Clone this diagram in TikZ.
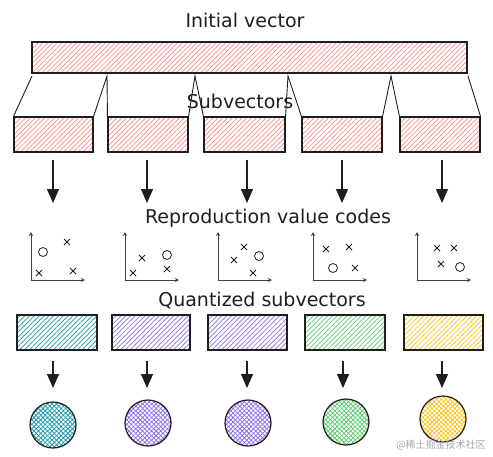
\documentclass[tikz,border=0pt]{standalone}
\usepackage{fontspec}
\setmainfont{DejaVu Sans}
\newfontfamily\cjkfont{Noto Sans CJK SC}
\usetikzlibrary{arrows.meta,patterns.meta,calc}
\definecolor{inkc}{HTML}{1E1E1E}
\definecolor{redh}{HTML}{FF8787}
\definecolor{tealh}{HTML}{1798A8}
\definecolor{purph}{HTML}{8C6CF0}
\definecolor{greenh}{HTML}{5CCB6E}
\definecolor{yellh}{HTML}{FCC419}
\tikzset{
  box/.style={draw=inkc, line width=1.1pt, rectangle, inner sep=0pt, minimum height=35pt},
  hatchfill/.style={pattern={Lines[angle=45,distance=3.4pt,line width=0.7pt]}, pattern color=#1},
  crossfill/.style={pattern={Hatch[angle=45,distance=3.2pt,line width=0.75pt]}, pattern color=#1},
  disc/.style={draw=inkc, line width=1.2pt, circle, minimum size=46pt, inner sep=0pt},
  funnel/.style={draw=inkc, line width=0.9pt},
  bigarrow/.style={draw=inkc, line width=1.3pt, -{Triangle[width=12pt,length=14pt]}},
  axis/.style={draw=inkc!85, line width=0.8pt, -{Stealth[length=4pt,width=4pt]}},
  title/.style={font=\fontsize{19}{21}\selectfont, text=inkc},
  xm/.style={draw=inkc, line width=0.8pt},
  om/.style={draw=inkc, line width=0.8pt, circle, minimum size=9pt, inner sep=0pt},
}
\newcommand{\xmark}[2]{\draw[xm] (#1-3,#2-3) -- (#1+3,#2+3) (#1-3,#2+3) -- (#1+3,#2-3);}
\newcommand{\plotaxes}[2]{%
  \coordinate (o#1) at (#2,280);
  \coordinate (t#1) at (#2,232);
  \coordinate (r#1) at (#2+54,280);
  \draw[axis] (o#1) -- (t#1);
  \draw[axis] (o#1) -- (r#1);}
\begin{document}
\begin{tikzpicture}[x=1pt,y=-1pt]
\useasboundingbox (0,0) rectangle (493,456);

% titles
\node[title] (t1) at (245,20) {Initial vector};
\node[title] (t2) at (240,101) {Subvectors};
\node[title] (t3) at (268,218) {Reproduction value codes};
\node[title] (t4) at (262,300) {Quantized subvectors};

% initial vector
\node[box, hatchfill=redh, minimum width=435pt, minimum height=31pt] (big) at (249.5,57.5) {};

% subvectors
\node[box, hatchfill=redh, minimum width=79pt] (s1) at (53.5,134.5) {};
\node[box, hatchfill=redh, minimum width=80pt] (s2) at (148,134.5) {};
\node[box, hatchfill=redh, minimum width=81pt] (s3) at (244.5,134.5) {};
\node[box, hatchfill=redh, minimum width=80pt] (s4) at (342,134.5) {};
\node[box, hatchfill=redh, minimum width=80pt] (s5) at (440,134.5) {};

% funnel lines
\coordinate (f0) at (32,76);
\coordinate (f1) at (107,76);
\coordinate (f2) at (195,76);
\coordinate (f3) at (288,76);
\coordinate (f4) at (391,76);
\coordinate (f5) at (468,76);
\draw[funnel] (f0) -- (s1.north west);
\draw[funnel] (s1.north east) -- (f1) -- (s2.north west);
\draw[funnel] (s2.north east) -- (f2) -- (s3.north west);
\draw[funnel] (s3.north east) -- (f3) -- (s4.north west);
\draw[funnel] (s4.north east) -- (f4) -- (s5.north west);
\draw[funnel] (f5) -- (s5.north east);

% arrows to plots
\coordinate (a1) at (53,203);
\coordinate (a2) at (147,203);
\coordinate (a3) at (247,203);
\coordinate (a4) at (342,203);
\coordinate (a5) at (442,203);
\draw[bigarrow] (s1.south -| a1) ++(0,7) -- (a1);
\draw[bigarrow] (s2.south -| a2) ++(0,7) -- (a2);
\draw[bigarrow] (s3.south -| a3) ++(0,7) -- (a3);
\draw[bigarrow] (s4.south -| a4) ++(0,7) -- (a4);
\draw[bigarrow] (s5.south -| a5) ++(0,7) -- (a5);

% plots
\plotaxes{1}{31}
\plotaxes{2}{125}
\plotaxes{3}{218}
\plotaxes{4}{313}
\plotaxes{5}{417}
\node[om] (c1) at (43,252) {};
\xmark{67}{242}\xmark{39}{273}\xmark{73}{271}
\node[om] (c2) at (167,255) {};
\xmark{142}{258}\xmark{133}{273}\xmark{167}{269}
\node[om] (c3) at (259,256) {};
\xmark{244}{247}\xmark{234}{260}\xmark{253}{273}
\node[om] (c4) at (333,268) {};
\xmark{326}{249}\xmark{349}{247}\xmark{355}{268}
\node[om] (c5) at (460,267) {};
\xmark{437}{248}\xmark{454}{248}\xmark{441}{264}

% quantized subvectors
\node[box, hatchfill=tealh, minimum width=80pt] (q1) at (57,332.5) {};
\node[box, hatchfill=purph, minimum width=78pt] (q2) at (151,332.5) {};
\node[box, hatchfill=purph, minimum width=79pt] (q3) at (247.5,332.5) {};
\node[box, hatchfill=greenh, minimum width=80pt] (q4) at (345,332.5) {};
\node[box, hatchfill=yellh, minimum width=79pt] (q5) at (443.5,332.5) {};

% codes
\node[disc, crossfill=tealh] (d1) at (53,425) {};
\node[disc, crossfill=purph] (d2) at (148,423) {};
\node[disc, crossfill=purph] (d3) at (248,423) {};
\node[disc, crossfill=greenh] (d4) at (346,422) {};
\node[disc, crossfill=yellh] (d5) at (443,419) {};

\coordinate (b1) at (53,388);
\coordinate (b2) at (147,388);
\coordinate (b3) at (247,388);
\coordinate (b4) at (343,388);
\coordinate (b5) at (442,388);
\draw[bigarrow] (q1.south -| b1) ++(0,10) -- (b1);
\draw[bigarrow] (q2.south -| b2) ++(0,10) -- (b2);
\draw[bigarrow] (q3.south -| b3) ++(0,10) -- (b3);
\draw[bigarrow] (q4.south -| b4) ++(0,10) -- (b4);
\draw[bigarrow] (q5.south -| b5) ++(0,10) -- (b5);

% watermark
\node[font=\cjkfont\fontsize{10}{11}\selectfont, text=black!35] (wm) at (441,445) {@稀土掘金技术社区};
\end{tikzpicture}
\end{document}
